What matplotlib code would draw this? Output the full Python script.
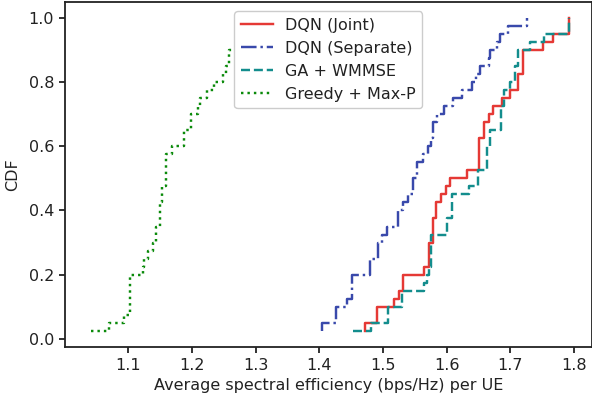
import numpy as np
import matplotlib
matplotlib.use("Agg")
import matplotlib.pyplot as plt

# Per-UE average spectral efficiency samples (bps/Hz), sorted, 40 drops each
dqn_joint = [1.472, 1.472, 1.491, 1.491, 1.517, 1.525, 1.532, 1.532, 1.565, 1.572,
             1.572, 1.572, 1.579, 1.579, 1.579, 1.584, 1.584, 1.592, 1.599, 1.605,
             1.632, 1.651, 1.651, 1.651, 1.651, 1.659, 1.659, 1.666, 1.673, 1.687,
             1.700, 1.713, 1.713, 1.720, 1.720, 1.720, 1.752, 1.767, 1.793, 1.793]
dqn_separate = [1.405, 1.405, 1.426, 1.426, 1.443, 1.452, 1.452, 1.452, 1.479, 1.479,
                1.493, 1.493, 1.498, 1.507, 1.524, 1.524, 1.532, 1.539, 1.547, 1.547,
                1.553, 1.553, 1.563, 1.571, 1.576, 1.579, 1.579, 1.585, 1.596, 1.610,
                1.624, 1.640, 1.646, 1.653, 1.666, 1.668, 1.679, 1.684, 1.697, 1.726]
ga_wmmse = [1.453, 1.481, 1.508, 1.508, 1.530, 1.530, 1.565, 1.569, 1.573, 1.575,
            1.575, 1.575, 1.575, 1.601, 1.601, 1.609, 1.609, 1.609, 1.636, 1.650,
            1.650, 1.664, 1.664, 1.664, 1.668, 1.668, 1.685, 1.685, 1.685, 1.690,
            1.690, 1.700, 1.708, 1.708, 1.713, 1.713, 1.731, 1.753, 1.792, 1.792]
greedy_maxp = [1.041, 1.070, 1.093, 1.103, 1.103, 1.103, 1.103, 1.103, 1.123, 1.125,
               1.130, 1.139, 1.143, 1.144, 1.149, 1.149, 1.149, 1.153, 1.153, 1.159,
               1.159, 1.159, 1.159, 1.169, 1.188, 1.188, 1.198, 1.198, 1.209, 1.213,
               1.223, 1.234, 1.248, 1.253, 1.258, 1.258, 1.272, 1.282, 1.291, 1.301]

labels = ["DQN (Joint)", "DQN (Separate)", "GA + WMMSE", "Greedy + Max-P"]
series = [dqn_joint, dqn_separate, ga_wmmse, greedy_maxp]
colors = ["#e53935", "#3949ab", "#138d8d", "#0a8a0a"]
styles = ["-", "-.", "--", ":"]

plt.rcParams["font.family"] = "DejaVu Sans"
plt.rcParams["font.size"] = 11.5
plt.rcParams["text.color"] = "#222222"
plt.rcParams["axes.labelcolor"] = "#222222"
plt.rcParams["xtick.color"] = "#222222"
plt.rcParams["ytick.color"] = "#222222"

fig = plt.figure(figsize=(5.92, 4.0), dpi=100)
ax = fig.add_axes([0.1103, 0.1333, 0.8889, 0.862])

for vals, lab, col, ls in zip(series, labels, colors, styles):
    x = np.sort(np.asarray(vals))
    y = np.arange(1, len(x) + 1) / len(x)
    ax.step(x, y, where="post", color=col, linestyle=ls, linewidth=1.75, label=lab)

ax.set_xlim(1.0008, 1.8278)
ax.set_ylim(-0.0238, 1.0488)
xt = np.arange(1.1, 1.81, 0.1)
yt = np.arange(0.0, 1.01, 0.2)
ax.set_xticks(xt)
ax.set_yticks(yt)
ax.set_xticklabels([f"{v:.1f}" for v in xt])
ax.set_yticklabels([f"{v:.1f}" for v in yt])
ax.set_xlabel("Average spectral efficiency (bps/Hz) per UE", labelpad=4)
ax.set_ylabel("CDF", labelpad=6)
for s in ax.spines.values():
    s.set_linewidth(1.3)
    s.set_color("#222222")
ax.tick_params(direction="out", length=4.5, width=1.3)

ax.legend(loc="upper center", framealpha=1.0, edgecolor="#cccccc",
          borderaxespad=0.6)

fig.savefig("out.png", dpi=100)
